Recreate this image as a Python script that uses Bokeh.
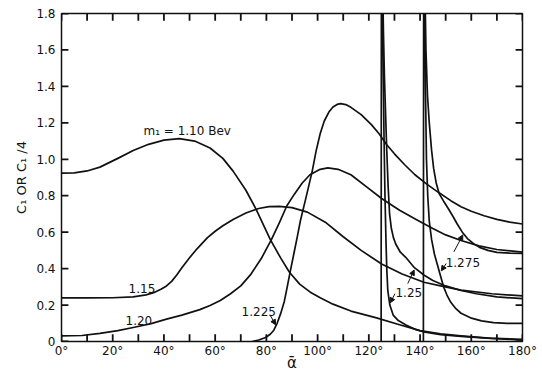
from bokeh.plotting import figure
from bokeh.models import (Range1d, FixedTicker, Label, Arrow, NormalHead,
                          CustomJSTickFormatter)
from bokeh.embed import file_html
from bokeh.resources import INLINE

# --- curve data: angle alpha-bar (degrees) and C1 or C1/4 -------------------
m110_x = [0, 5, 10, 15, 22, 28, 34, 40, 46, 52, 58, 63, 67, 72, 76, 81.5, 85.5,
          89, 93, 97, 101, 106, 113, 123, 132, 140, 148, 156, 168, 180]
m110_y = [0.924, 0.925, 0.936, 0.957, 1.005, 1.048, 1.082, 1.105, 1.113, 1.100,
          1.062, 1.005, 0.935, 0.830, 0.725, 0.560, 0.460, 0.380, 0.315, 0.272,
          0.240, 0.205, 0.167, 0.130, 0.092, 0.060, 0.042, 0.031, 0.017, 0.008]

m115_x = [0, 10, 20, 28, 33, 36, 39, 41, 43, 45, 47, 50, 53, 57, 60, 63, 67, 72,
          77, 81, 85, 90, 96, 103, 110, 117, 125, 133, 141.5, 148, 156, 168, 180]
m115_y = [0.239, 0.239, 0.240, 0.245, 0.256, 0.268, 0.288, 0.305, 0.330, 0.365,
          0.405, 0.460, 0.510, 0.570, 0.605, 0.635, 0.670, 0.705, 0.730, 0.740,
          0.742, 0.735, 0.710, 0.655, 0.575, 0.500, 0.425, 0.370, 0.325, 0.305,
          0.282, 0.262, 0.250]

m120_x = [0, 8, 15, 22, 28, 35, 41, 47, 54, 58, 62, 66, 70, 74, 78, 82, 85, 88,
          91, 94, 97, 101, 104, 108, 113, 119, 125, 132, 139, 145, 150, 156, 163,
          170, 180]
m120_y = [0.031, 0.033, 0.045, 0.060, 0.077, 0.098, 0.123, 0.145, 0.175, 0.198,
          0.225, 0.262, 0.305, 0.370, 0.455, 0.560, 0.650, 0.745, 0.810, 0.870,
          0.915, 0.945, 0.953, 0.945, 0.915, 0.850, 0.785, 0.720, 0.665, 0.620,
          0.585, 0.554, 0.525, 0.505, 0.490]

m1225_x = [74.5, 77, 79.7, 81.5, 82.9, 84.2, 85.5, 87, 88.1, 89.4, 90.7, 92,
           93.3, 95.3, 97.9, 99.4, 101, 102.6, 104.4, 106, 107.6, 109, 111, 113,
           117, 121, 124, 127, 130, 134, 138, 142.5, 147, 152, 156, 160, 165,
           170, 175, 180]
m1225_y = [0.0, 0.008, 0.022, 0.040, 0.062, 0.100, 0.150, 0.220, 0.297, 0.390,
           0.480, 0.570, 0.664, 0.780, 0.935, 1.045, 1.140, 1.210, 1.259, 1.287,
           1.301, 1.305, 1.300, 1.285, 1.245, 1.190, 1.140, 1.080, 1.030, 0.970,
           0.915, 0.865, 0.820, 0.773, 0.740, 0.715, 0.690, 0.670, 0.655, 0.645]

# m1 = 1.25: narrow spike near 125 deg and its two tails
m125a_x = [124.8, 124.9, 125.3, 125.6, 125.9, 126.3, 126.7, 127.0, 127.4, 128.2,
           129.5, 131.5, 134.5, 138.5, 141.5, 148, 156, 166, 180]
m125a_y = [0.0, 1.95, 1.95, 1.50, 1.15, 0.80, 0.55, 0.40, 0.28, 0.20, 0.145,
           0.115, 0.090, 0.065, 0.052, 0.038, 0.028, 0.018, 0.012]
m125b_x = [125.4, 125.7, 126.1, 126.6, 127.0, 127.5, 128.1, 128.8, 129.6, 130.5,
           132.3, 134.4, 137.8, 141.5, 145, 150, 156, 162, 170, 180]
m125b_y = [1.95, 1.70, 1.45, 1.22, 1.05, 0.86, 0.70, 0.62, 0.57, 0.535, 0.490,
           0.462, 0.405, 0.365, 0.335, 0.305, 0.280, 0.262, 0.245, 0.235]

# m1 = 1.275: narrow spike near 141.5 deg and its two tails
m1275a_x = [141.3, 141.4, 141.8, 142.1, 142.5, 143.0, 143.6, 144.5, 145.6, 146.8,
            148.0, 149.2, 150.5, 152.0, 154.0, 156.0, 159.7, 164, 168.7, 174, 180]
m1275a_y = [0.0, 1.95, 1.95, 1.40, 1.00, 0.80, 0.66, 0.56, 0.48, 0.42, 0.36,
            0.30, 0.255, 0.215, 0.180, 0.155, 0.130, 0.113, 0.104, 0.100, 0.100]
m1275b_x = [141.9, 142.3, 142.9, 143.6, 144.5, 145.3, 146.3, 147.5, 149.2, 151,
            152.7, 154.5, 156.5, 158.5, 160.9, 163.5, 166.5, 170, 175, 180]
m1275b_y = [1.95, 1.60, 1.35, 1.20, 1.05, 0.95, 0.87, 0.81, 0.77, 0.730, 0.690,
            0.645, 0.600, 0.565, 0.537, 0.515, 0.500, 0.489, 0.485, 0.483]

curves = [(m110_x, m110_y), (m115_x, m115_y), (m120_x, m120_y),
          (m1225_x, m1225_y), (m125a_x, m125a_y), (m125b_x, m125b_y),
          (m1275a_x, m1275a_y), (m1275b_x, m1275b_y)]

# --- tick values --------------------------------------------------------------
x_major = [0, 20, 40, 60, 80, 100, 120, 140, 160, 180]
x_minor = [10, 30, 50, 70, 90, 110, 130, 150, 170]
y_major = [0, 0.2, 0.4, 0.6, 0.8, 1.0, 1.2, 1.4, 1.6, 1.8]

# --- curve labels: text, anchor (deg, value) ------------------------------------
labels = [("m\u2081 = 1.10 Bev", 32.0, 1.118),
          ("1.15", 26.2, 0.268),
          ("1.20", 25.0, 0.092),
          ("1.225", 70.3, 0.141),
          ("1.25", 130.4, 0.242),
          ("1.275", 150.0, 0.407)]

# pointer arrows: start -> tip
pointers = [((81.6, 0.141), (83.6, 0.092)),
            ((130.2, 0.262), (128.3, 0.212)),
            ((135.2, 0.318), (137.7, 0.392)),
            ((150.2, 0.428), (148.3, 0.388)),
            ((153.2, 0.492), (156.7, 0.585))]

FONT = "DejaVu Sans"
INK = "#111111"
X0, X1, Y0, Y1 = 0, 180, 0, 1.8
FRAME_W = 1.5
TICK_W = 1.8

p = figure(width=542, height=374, output_backend="svg", toolbar_location=None,
           x_range=Range1d(X0, X1), y_range=Range1d(Y0, Y1),
           min_border_left=61, min_border_right=20, min_border_top=13,
           min_border_bottom=33)
p.grid.visible = False
p.outline_line_color = INK
p.outline_line_width = FRAME_W
p.background_fill_color = "white"
p.border_fill_color = "white"

for xs, ys in curves:
    p.line(xs, ys, line_color=INK, line_width=1.7, line_join="round")

# inward tick marks on all four sides of the frame, about 7 px long
x_ticks = sorted(x_major + x_minor)
tick_dy = 0.040 * (Y1 - Y0) / 1.8
tick_dx = 2.7 * (X1 - X0) / 180
p.segment(x0=x_ticks, y0=[Y0] * len(x_ticks), x1=x_ticks,
          y1=[Y0 + tick_dy] * len(x_ticks), line_color=INK, line_width=TICK_W)
p.segment(x0=x_ticks, y0=[Y1] * len(x_ticks), x1=x_ticks,
          y1=[Y1 - tick_dy] * len(x_ticks), line_color=INK, line_width=TICK_W)
p.segment(x0=[X0] * len(y_major), y0=y_major, x1=[X0 + tick_dx] * len(y_major),
          y1=y_major, line_color=INK, line_width=TICK_W)
p.segment(x0=[X1] * len(y_major), y0=y_major, x1=[X1 - tick_dx] * len(y_major),
          y1=y_major, line_color=INK, line_width=TICK_W)

# bottom axis: labels only
xa = p.xaxis[0]
xa.ticker = FixedTicker(ticks=x_major)
xa.formatter = CustomJSTickFormatter(code="return tick + '\u00b0'")
xa.major_tick_in = 0
xa.major_tick_out = 0
xa.minor_tick_in = 0
xa.minor_tick_out = 0
xa.axis_line_color = None
xa.major_label_standoff = 2
xa.major_label_text_font = FONT
xa.major_label_text_font_size = "12px"
xa.major_label_text_color = INK
xa.axis_label = "\u03b1\u0304"
xa.axis_label_text_font = FONT
xa.axis_label_text_font_size = "15px"
xa.axis_label_text_font_style = "normal"
xa.axis_label_text_color = INK
xa.axis_label_standoff = -7

# left axis: labels only
ya = p.yaxis[0]
ya.ticker = FixedTicker(ticks=y_major)
ya.formatter = CustomJSTickFormatter(
    code="return tick == 0 ? '0' : tick.toFixed(1)")
ya.major_tick_in = 0
ya.major_tick_out = 0
ya.minor_tick_in = 0
ya.minor_tick_out = 0
ya.axis_line_color = None
ya.major_label_standoff = 6
ya.major_label_text_font = FONT
ya.major_label_text_font_size = "12px"
ya.major_label_text_color = INK
ya.axis_label = "C\u2081 OR C\u2081 /4"
ya.axis_label_text_font = FONT
ya.axis_label_text_font_size = "13px"
ya.axis_label_text_font_style = "normal"
ya.axis_label_text_color = INK
ya.axis_label_standoff = 4

for text, lx, ly in labels:
    p.add_layout(Label(x=lx, y=ly, text=text, text_font=FONT,
                       text_font_size="12px", text_color=INK))

for (sx, sy), (ex, ey) in pointers:
    p.add_layout(Arrow(x_start=sx, y_start=sy, x_end=ex, y_end=ey,
                       line_color=INK, line_width=1,
                       end=NormalHead(size=5, line_color=INK, fill_color=INK)))

open("out.html", "w").write(file_html(p, INLINE))
